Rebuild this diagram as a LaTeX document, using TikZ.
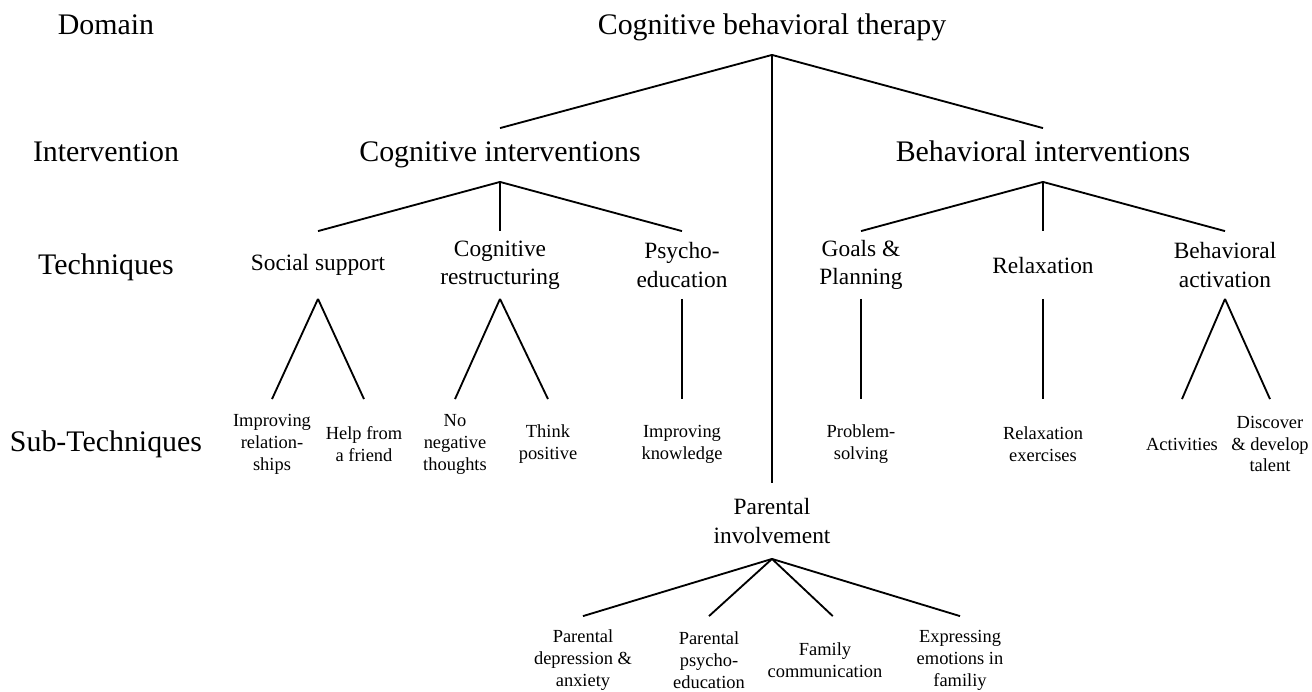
\documentclass[tikz,border=0pt]{standalone}
\usepackage{fontspec}
\setmainfont{Liberation Serif}

\begin{document}
\begin{tikzpicture}[x=0.02cm, y=-0.02cm, line width=1.05pt,
    level/.style={font=\fontsize{17}{20}\selectfont, text height=0.85em, text depth=0.1em},
    branch/.style={level, minimum height=1.04cm},
    tech/.style={font=\fontsize{13.3}{16}\selectfont, align=center, minimum height=1.32cm},
    sub/.style={font=\fontsize{10.5}{12.5}\selectfont, align=center, minimum height=1.76cm}]
    \useasboundingbox (0, 0) rectangle (1312, 691);
    % row labels
    \node[level] (dom) at (106, 28) {Domain};
    \node[level] (intv) at (106, 155) {Intervention};
    \node[level] (techs) at (106, 268) {Techniques};
    \node[level] (subt) at (106, 445) {Sub-Techniques};
    % domain and interventions
    \node[branch] (cbt) at (772, 28) {Cognitive behavioral therapy};
    \node[branch] (cog) at (500, 155) {Cognitive interventions};
    \node[branch] (beh) at (1043, 155) {Behavioral interventions};
    % techniques
    \node[tech] (ss) at (318, 265) {Social support};
    \node[tech] (cr) at (500, 265) {Cognitive\\restructuring};
    \node[tech] (pe) at (682, 265) {Psycho-\\education};
    \node[tech] (gp) at (861, 265) {Goals \&\\Planning};
    \node[tech] (rel) at (1043, 265) {Relaxation};
    \node[tech] (ba) at (1225, 265) {Behavioral\\activation};
    % sub-techniques
    \node[sub] (imp) at (272, 444) {Improving\\relation-\\ships};
    \node[sub] (help) at (364, 444) {Help from\\a friend};
    \node[sub] (noneg) at (455, 444) {No\\negative\\thoughts};
    \node[sub] (think) at (548, 444) {Think\\positive};
    \node[sub] (know) at (682, 444) {Improving\\knowledge};
    \node[sub] (prob) at (861, 444) {Problem-\\solving};
    \node[sub] (relex) at (1043, 444) {Relaxation\\exercises};
    \node[sub] (act) at (1182, 444) {Activities};
    \node[sub] (disc) at (1270, 444) {Discover\\\& develop\\talent};
    % parental involvement
    \node[tech, minimum height=1.48cm] (par) at (772, 521) {Parental\\involvement};
    \node[sub, minimum height=1.72cm] (pdep) at (583, 660) {Parental\\depression \&\\anxiety};
    \node[sub, minimum height=1.72cm] (ppsy) at (709, 660) {Parental\\psycho-\\education};
    \node[sub, minimum height=1.72cm] (fam) at (825, 660) {Family\\communication};
    \node[sub, minimum height=1.72cm] (expr) at (960, 660) {Expressing\\emotions in\\familiy};
    \draw (cbt.south) -- (cog.north);
    \draw (cbt.south) -- (beh.north);
    \draw (cbt.south) -- (par.north);
    \draw (cog.south) -- (ss.north);
    \draw (cog.south) -- (cr.north);
    \draw (cog.south) -- (pe.north);
    \draw (beh.south) -- (gp.north);
    \draw (beh.south) -- (rel.north);
    \draw (beh.south) -- (ba.north);
    \draw (ss.south) -- (imp.north);
    \draw (ss.south) -- (help.north);
    \draw (cr.south) -- (noneg.north);
    \draw (cr.south) -- (think.north);
    \draw (pe.south) -- (know.north);
    \draw (gp.south) -- (prob.north);
    \draw (rel.south) -- (relex.north);
    \draw (ba.south) -- (act.north);
    \draw (ba.south) -- (disc.north);
    \draw (par.south) -- (pdep.north);
    \draw (par.south) -- (ppsy.north);
    \draw (par.south) -- (fam.80);
    \draw (par.south) -- (expr.north);
  \end{tikzpicture}
\end{document}
